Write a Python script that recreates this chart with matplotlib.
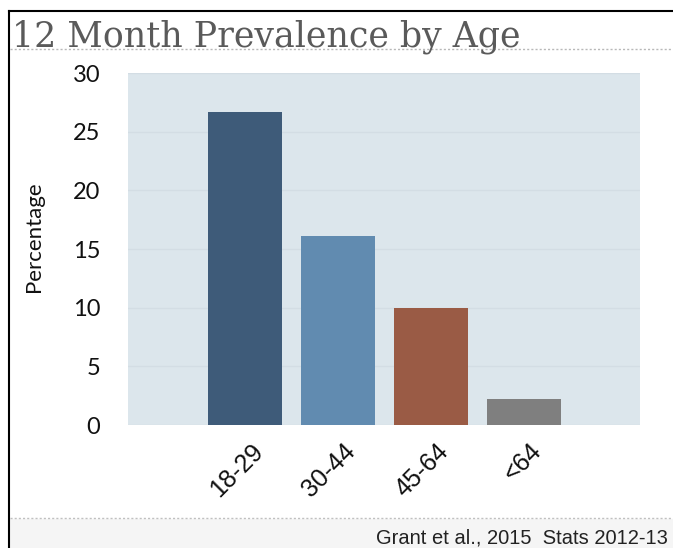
import matplotlib
matplotlib.use("Agg")
import matplotlib.pyplot as plt
import matplotlib.transforms as mtransforms
from matplotlib.lines import Line2D
from matplotlib.patches import Rectangle

# data
age_groups = ["18-29", "30-44", "45-64", "<64"]
prevalence = [26.7, 16.1, 10.0, 2.2]
bar_colors = ["#3e5b79", "#618bb0", "#9a5b45", "#7f7f7f"]
y_ticks = [0, 5, 10, 15, 20, 25, 30]

W, H = 673, 548
fig = plt.figure(figsize=(W / 100, H / 100), dpi=100)
fig.patch.set_facecolor("white")

# plot area in pixel terms -> figure fractions
left, right, top, bottom = 128, 640, 73, 425
ax = fig.add_axes([left / W, 1 - bottom / H, (right - left) / W, (bottom - top) / H])
ax.set_facecolor("#dce6ec")

x = range(len(age_groups))
ax.bar(x, prevalence, width=0.8, color=bar_colors, zorder=3)

ax.set_xlim(-1.26, 4.25)
ax.set_ylim(0, 30)
ax.set_yticks(y_ticks)
ax.yaxis.grid(True, color="#d3dde4", linewidth=1.0, zorder=0)
for s in ax.spines.values():
    s.set_visible(False)
ax.tick_params(axis="y", length=0, pad=20, labelsize=17, labelcolor="#111111")
ax.tick_params(axis="x", length=0, pad=10)
for lab in ax.get_yticklabels():
    lab.set_fontfamily("Lato")

ax.set_xticks(list(x))
ax.set_xticklabels(age_groups, rotation=45, ha="right", rotation_mode="anchor",
                   fontsize=18, family="Liberation Sans", color="#111111")
# nudge rotated labels a little to the right, like the slide
shift = mtransforms.ScaledTranslation(4 / 72, 0, fig.dpi_scale_trans)
for lab in ax.get_xticklabels():
    lab.set_transform(lab.get_transform() + shift)

ax.set_ylabel("Percentage", fontsize=16, family="Lato", color="#111111")
ax.yaxis.set_label_coords(-0.165, 0.535)

# title and slide decorations
fig.text(12 / W, 1 - 46 / H, "12 Month Prevalence by Age", fontsize=25,
         family="DejaVu Serif", color="#5a5a5a", ha="left", va="baseline")
fig.add_artist(Line2D([10 / W, 1], [1 - 49 / H] * 2, color="#b8b8b8",
                      linestyle=(0, (1.5, 1.5)), linewidth=1))
fig.add_artist(Line2D([10 / W, 1], [1 - 518 / H] * 2, color="#c0c0c0",
                      linestyle=(0, (1.5, 1.5)), linewidth=1))
fig.add_artist(Rectangle((10 / W, 0), 1, 1 - 519 / H, color="#f5f5f5",
                         transform=fig.transFigure, zorder=-1))
fig.add_artist(Line2D([8.5 / W, 1], [1 - 11 / H] * 2, color="black", linewidth=1.5))
fig.add_artist(Line2D([8.5 / W, 8.5 / W], [0, 1 - 11 / H], color="black", linewidth=1.5))

fig.text(668 / W, 1 - 543 / H, "Grant et al., 2015  Stats 2012-13", fontsize=14.5,
         family="Liberation Sans", color="#222222", ha="right", va="baseline")

fig.savefig("out.png", dpi=100)
